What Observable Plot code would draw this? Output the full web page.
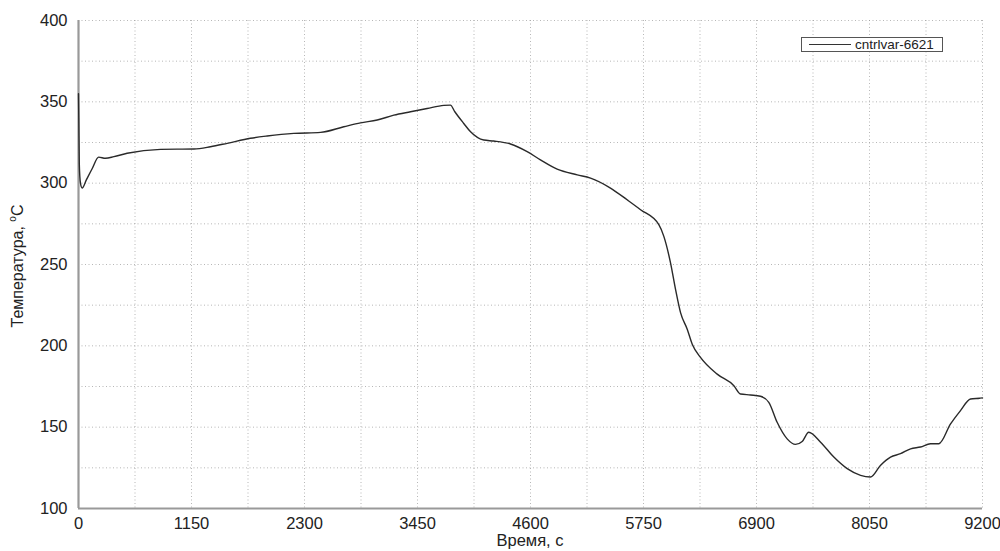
<!DOCTYPE html>
<html>
<head>
<meta charset="utf-8">
<script src="https://cdn.jsdelivr.net/npm/d3@7"></script>
<script src="https://cdn.jsdelivr.net/npm/@observablehq/plot@0.6"></script>
<style>
  html, body { margin: 0; padding: 0; background: #fff; }
  #wrap { position: relative; width: 1000px; height: 551px; font-family: "Liberation Sans", Arial, sans-serif; color: #222; }
  #ytitle { position: absolute; left: 17px; top: 266px; transform: translate(-50%, -50%) rotate(-90deg); font-size: 16px; white-space: nowrap; }
  #ytitle sup { font-size: 10px; }
  #xtitle { position: absolute; left: 530px; top: 531px; transform: translateX(-50%); font-size: 16.5px; white-space: nowrap; }
  #legend { position: absolute; left: 801px; top: 37px; width: 142px; height: 15px; border: 1px solid #555; background: #fff; box-sizing: border-box; font-size: 13.5px; }
  #legend .sw { position: absolute; left: 7px; top: 6px; width: 42px; height: 0; border-top: 1.3px solid #333; }
  #legend .tx { position: absolute; left: 53px; top: -1px; line-height: 15px; }
</style>
</head>
<body>
<div id="wrap"></div>
<script>
// Data
const times = [0, 3, 8, 20, 37, 80, 140, 205, 275, 360, 495, 835, 1175, 1343, 1513, 1750, 1920, 2191, 2463, 2700, 2870, 3040, 3209, 3379, 3548, 3718, 3785, 3830, 3921, 3990, 4125, 4226, 4396, 4566, 4701, 4871, 5076, 5211, 5414, 5583, 5720, 5906, 5957, 6025, 6076, 6127, 6195, 6246, 6330, 6500, 6670, 6737, 6839, 6940, 7025, 7110, 7212, 7297, 7365, 7432, 7552, 7687, 7823, 7959, 8060, 8161, 8264, 8366, 8468, 8569, 8671, 8755, 8875, 8976, 9078, 9170, 9200];
const temps = [355, 340, 312, 300, 297, 302, 309, 316, 315.3, 316.3, 318.4, 320.8, 321, 322.4, 324.5, 327.6, 329, 330.6, 331.2, 334.7, 337.1, 338.8, 341.8, 343.9, 345.9, 347.8, 348, 343.9, 336.7, 331.6, 326.5, 325.9, 324.1, 319.4, 314.3, 308.6, 305.1, 303.1, 297, 289.8, 283.7, 274.5, 267.3, 251, 234.7, 220.4, 210.2, 201, 192.9, 182.6, 175.5, 170.4, 169.8, 169, 165.3, 153, 142.8, 139.4, 141.2, 146.9, 140.8, 131.6, 124.5, 120.4, 119.4, 126.5, 131.6, 133.7, 136.7, 137.8, 139.8, 139.8, 152, 160.2, 167.3, 167.8, 168];
const xTicks = [0, 1150, 2300, 3450, 4600, 5750, 6900, 8050, 9200];
const yTicks = [100, 150, 200, 250, 300, 350, 400];
const xGrid = [575, 1150, 1725, 2300, 2875, 3450, 4025, 4600, 5175, 5750, 6325, 6900, 7475, 8050, 8625, 9200];
const yGrid = [125, 150, 175, 200, 225, 250, 275, 300, 325, 350, 375, 400];
const seriesName = "cntrlvar-6621";
const xTitle = "Время, с";
const yTitle = "Температура, ";

const data = times.map((t, i) => ({t, v: temps[i]}));

const chart = Plot.plot({
  width: 1000,
  height: 551,
  marginLeft: 78,
  marginRight: 18,
  marginTop: 20,
  marginBottom: 43,
  style: {fontFamily: "'Liberation Sans', Arial, sans-serif", fontSize: "16.5px", color: "#222", background: "#fff"},
  x: {domain: [0, 9200]},
  y: {domain: [100, 400]},
  marks: [
    Plot.gridX(xGrid, {stroke: "#999", strokeOpacity: 0.7, strokeDasharray: "1,2.5"}),
    Plot.gridY(yGrid, {stroke: "#999", strokeOpacity: 0.7, strokeDasharray: "1,2.5"}),
    Plot.ruleX([0], {stroke: "#999", strokeWidth: 2.2}),
    Plot.ruleY([100], {stroke: "#999", strokeWidth: 2.2}),
    Plot.axisX(xTicks, {tickSize: 0, tickPadding: 9, tickFormat: d => String(d), label: null, fontSize: 16.5}),
    Plot.axisY(yTicks, {tickSize: 0, tickPadding: 11, tickFormat: d => String(d), label: null, fontSize: 16.5}),
    Plot.line(data, {x: "t", y: "v", stroke: "#2a2a2a", strokeWidth: 1.4, curve: "monotone-x"})
  ]
});

const wrap = document.getElementById("wrap");
wrap.appendChild(chart);

const yt = document.createElement("div");
yt.id = "ytitle";
yt.innerHTML = yTitle + "<sup>o</sup>C";
wrap.appendChild(yt);

const xt = document.createElement("div");
xt.id = "xtitle";
xt.textContent = xTitle;
wrap.appendChild(xt);

const lg = document.createElement("div");
lg.id = "legend";
lg.innerHTML = '<div class="sw"></div><div class="tx"></div>';
lg.querySelector(".tx").textContent = seriesName;
wrap.appendChild(lg);
</script>
</body>
</html>
